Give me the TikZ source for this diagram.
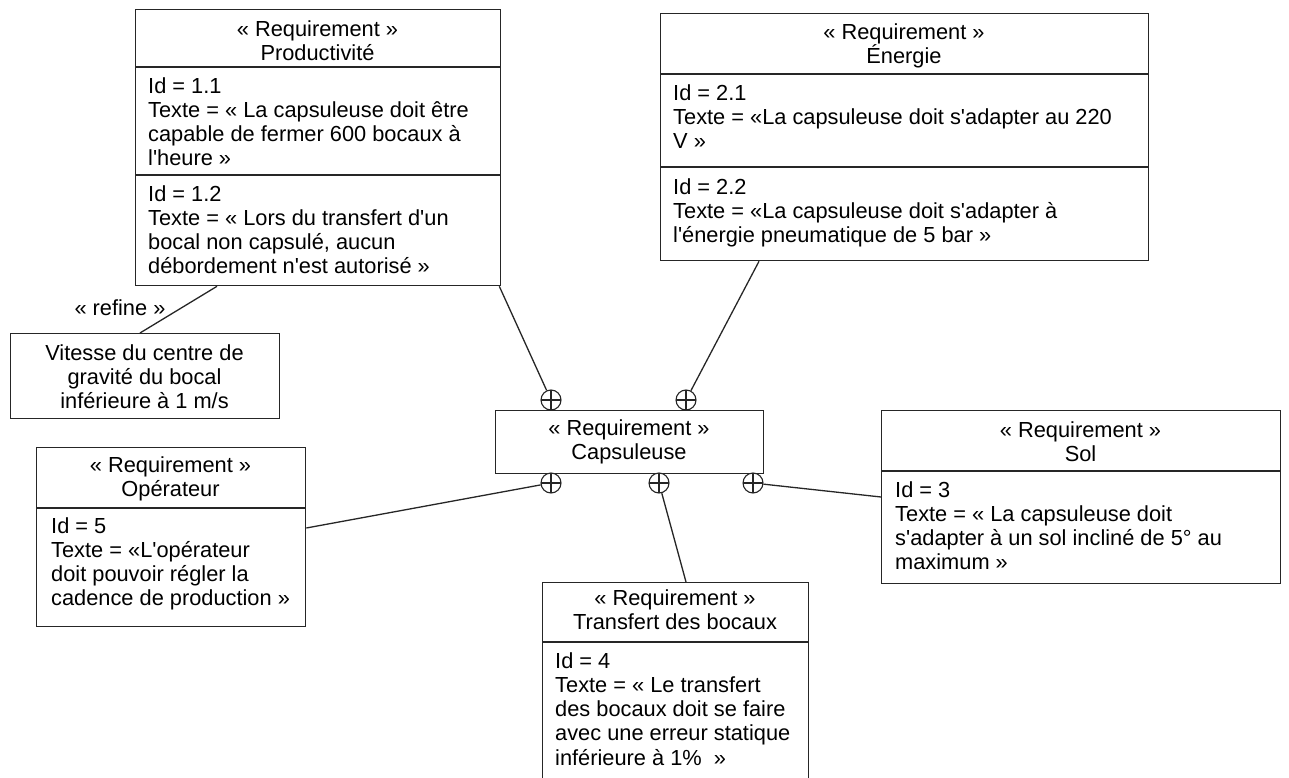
\documentclass[tikz,border=0pt]{standalone}
\usepackage{fontspec}
\setmainfont{Liberation Sans}[Ligatures=TeXOff]
\newcommand\reqfont{\fontsize{21.8pt}{24.2pt}\selectfont}
\newcommand\rs{\rule{0pt}{20pt}}
\definecolor{edge}{HTML}{262626}
\begin{document}
\begin{tikzpicture}[x=1pt,y=-1pt,
  frame/.style={draw=edge, line width=1.3pt, inner sep=0pt, anchor=north west},
  sep/.style={draw=edge, line width=1.3pt},
  hdr/.style={anchor=north, align=center, inner sep=0pt, font=\reqfont, text=black},
  body/.style={anchor=north west, align=left, inner sep=0pt, font=\reqfont, text=black},
  port/.style={circle, draw=edge, line width=1.1pt, minimum size=20pt, inner sep=0pt, fill=white,
    path picture={\draw[edge, line width=1.1pt]
      (path picture bounding box.north) -- (path picture bounding box.south)
      (path picture bounding box.west) -- (path picture bounding box.east);}},
  link/.style={draw=edge, line width=1.3pt}]
\useasboundingbox (0,0) rectangle (1289,778);

% Productivité
\node[frame, minimum width=365pt, minimum height=276pt] (prod) at (135,9) {};
\draw[sep] (prod.west |- 0,67) -- (prod.east |- 0,67);
\draw[sep] (prod.west |- 0,175) -- (prod.east |- 0,175);
\node[hdr] (prodh) at (317.5,16) {\rs« Requirement »\\Productivité};
\node[body] (prod1) at (148,73) {\rs Id = 1.1\\Texte = « La capsuleuse doit être\\capable de fermer 600 bocaux à\\l'heure »};
\node[body] (prod2) at (148,181) {\rs Id = 1.2\\Texte = « Lors du transfert d'un\\bocal non capsulé, aucun\\débordement n'est autorisé »};

% Énergie
\node[frame, minimum width=488pt, minimum height=247pt] (en) at (660,13) {};
\draw[sep] (en.west |- 0,74) -- (en.east |- 0,74);
\draw[sep] (en.west |- 0,167) -- (en.east |- 0,167);
\node[hdr] (enh) at (904,19) {\rs« Requirement »\\Énergie};
\node[body] (en1) at (673,80) {\rs Id = 2.1\\Texte = «La capsuleuse doit s'adapter au 220\\V »};
\node[body] (en2) at (673,174) {\rs Id = 2.2\\Texte = «La capsuleuse doit s'adapter à\\l'énergie pneumatique de 5 bar »};

% Capsuleuse
\node[frame, minimum width=268pt, minimum height=63pt] (cap) at (495,410) {};
\node[hdr] (caph) at (629,415) {\rs« Requirement »\\Capsuleuse};

% Vitesse (refine)
\node[frame, minimum width=269pt, minimum height=85pt] (vit) at (10,333) {};
\node[hdr] (vith) at (144.5,340) {\rs Vitesse du centre de\\gravité du bocal\\inférieure à 1 m/s};
\node[body, anchor=base] (refl) at (120,315) {« refine »};

% Opérateur
\node[frame, minimum width=269pt, minimum height=179pt] (op) at (36,447) {};
\draw[sep] (op.west |- 0,508) -- (op.east |- 0,508);
\node[hdr] (oph) at (170.5,452) {\rs« Requirement »\\Opérateur};
\node[body] (op1) at (51,513) {\rs Id = 5\\Texte = «L'opérateur\\doit pouvoir régler la\\cadence de production »};

% Sol
\node[frame, minimum width=399pt, minimum height=173pt] (sol) at (881,410) {};
\draw[sep] (sol.west |- 0,471) -- (sol.east |- 0,471);
\node[hdr] (solh) at (1080.5,417) {\rs« Requirement »\\Sol};
\node[body] (sol1) at (895,477) {\rs Id = 3\\Texte = « La capsuleuse doit\\s'adapter à un sol incliné de 5° au\\maximum »};

% Transfert des bocaux
\node[frame, minimum width=266pt, minimum height=220pt] (tr) at (542,582) {};
\draw[sep] (tr.west |- 0,642) -- (tr.east |- 0,642);
\node[hdr] (trh) at (675,585) {\rs« Requirement »\\Transfert des bocaux};
\node[body] (tr1) at (555,648) {\rs Id = 4\\Texte = « Le transfert\\des bocaux doit se faire\\avec une erreur statique\\inférieure à 1\%~ »};

% containment ports on Capsuleuse
\node[port] (pa) at (551,400) {};
\node[port] (pb) at (686,400) {};
\node[port] (pc) at (551,483) {};
\node[port] (pd) at (659,483) {};
\node[port] (pe) at (753,483) {};

% connector end points on the box borders
\coordinate (prodA) at ([xshift=-2pt]prod.south east);
\coordinate (prodR) at ([xshift=82pt]prod.south west);
\coordinate (enA) at ([xshift=99pt]en.south west);
\coordinate (opA) at ([yshift=-81pt]op.north east);
\coordinate (trA) at ([xshift=144pt]tr.north west);
\coordinate (solA) at ([yshift=-87pt]sol.north west);
\coordinate (vitA) at ([xshift=130pt]vit.north west);

\draw[link] (prodA) -- (pa);
\draw[link] (enA) -- (pb);
\draw[link] (pc) -- (opA);
\draw[link] (pd) -- (trA);
\draw[link] (pe) -- (solA);
\draw[link] (prodR) -- (vitA);
\end{tikzpicture}
\end{document}
